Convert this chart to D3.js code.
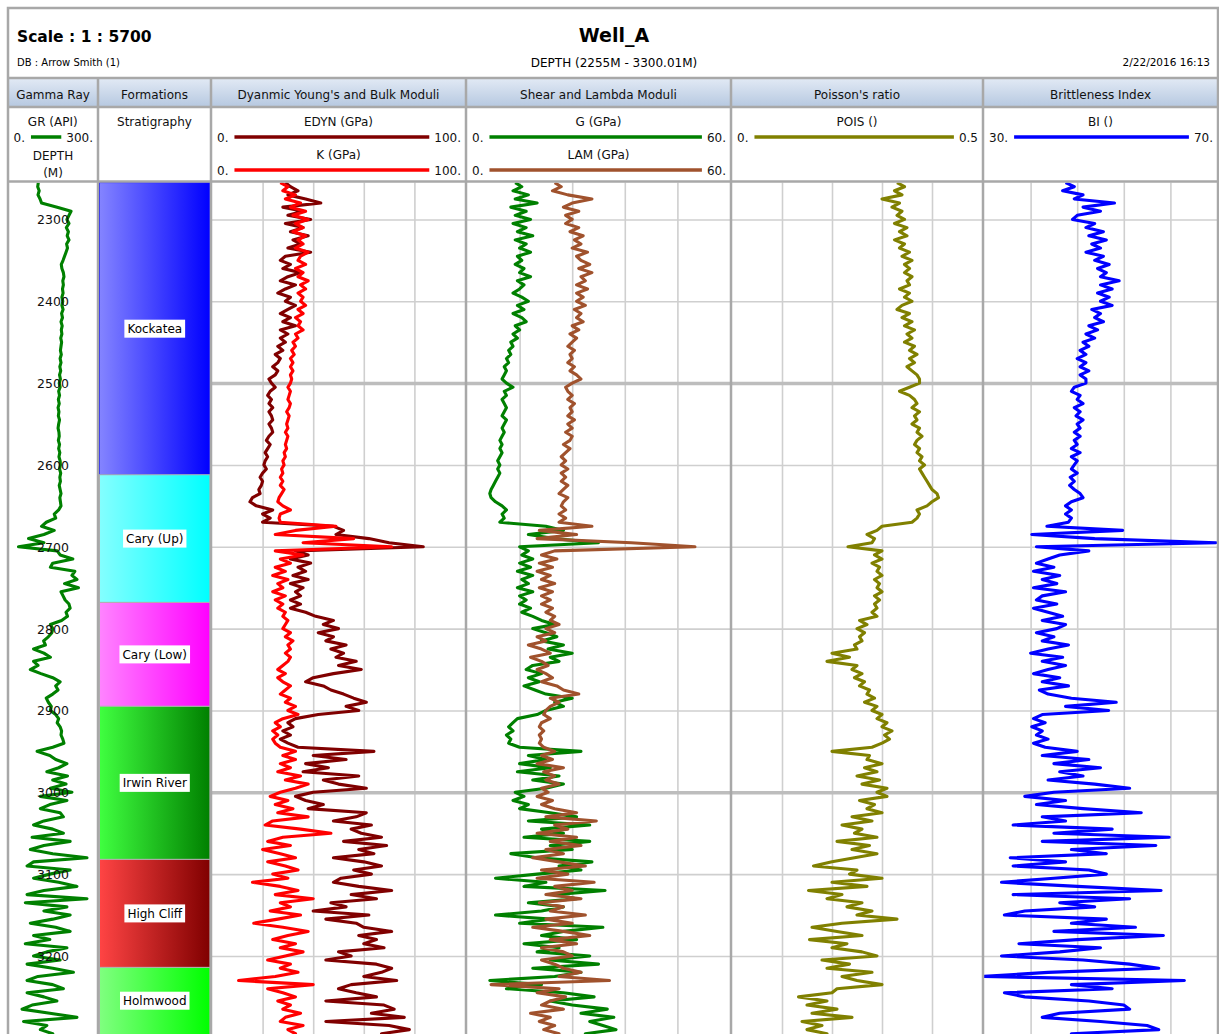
<!DOCTYPE html>
<html>
<head>
<meta charset="utf-8">
<script src="https://cdn.jsdelivr.net/npm/d3@7"></script>
<style>
  html, body { margin: 0; padding: 0; background: #fff; overflow: hidden; }
  svg { display: block; font-family: "DejaVu Sans", Verdana, sans-serif; }
</style>
</head>
<body>
<svg id="log" width="1219" height="1034"></svg>
<script>
// ---------------------------------------------------------------
// Well log data: one sample every 5 m, 2255 m .. 3300 m.
// Each row below holds one 100 m interval (2300-2395, 2400-2495, ...)
// ---------------------------------------------------------------
const depthTop = 2255, depthBottom = 3300, depthStep = 5;
const depths = d3.range(depthTop, depthBottom + 1, depthStep);
const depthTicks = [2300, 2400, 2500, 2600, 2700, 2800, 2900, 3000, 3100, 3200, 3300];

// Gamma ray (API)
const GR = [
  101, 99, 104, 100, 107, 112, 165, 212, 205,
  198, 205, 196, 203, 199, 205, 197, 200, 195, 190, 185, 179, 181, 186, 188, 184, 186, 183, 185, 181,
  184, 181, 185, 180, 183, 178, 182, 179, 181, 177, 180, 178, 176, 179, 175, 178, 174, 177, 173, 176,
  172, 175, 170, 173, 169, 172, 168, 171, 169, 173, 170, 168, 171, 172, 169, 173, 170, 174, 171, 175,
  176, 173, 177, 174, 176, 172, 175, 178, 174, 176, 178, 170, 155, 160, 128, 112, 155, 120, 68, 120,
  34, 165, 175, 218, 150, 142, 225, 215, 232, 190, 237, 178, 185, 192, 205, 209, 195, 200, 180, 142,
  150, 147, 135, 119, 125, 85, 120, 142, 85, 100, 74, 110, 150, 175, 160, 168, 150, 128, 135, 145,
  142, 160, 170, 165, 175, 180, 178, 184, 188, 150, 97, 140, 160, 198, 170, 130, 200, 150, 195, 142,
  215, 108, 198, 140, 108, 175, 186, 120, 85, 150, 186, 80, 209, 120, 74, 150, 266, 85, 63, 209,
  140, 85, 170, 232, 120, 63, 266, 57, 198, 120, 209, 150, 74, 160, 209, 85, 140, 57, 198, 130,
  85, 175, 63, 150, 220, 100, 63, 150, 186, 63, 120, 164, 80, 46, 140, 232, 51, 130, 108, 150,
  120
];

// Dynamic Young's modulus (GPa)
const EDYN = [
  29, 31, 34, 30, 37, 43, 28, 36, 30,
  39, 29, 36, 31, 38, 32, 35, 30, 39, 29, 27, 31, 28, 35, 30, 27, 33, 29, 26, 31,
  29, 33, 30, 27, 31, 28, 33, 27, 30, 27, 29, 26, 28, 25, 27, 26, 24, 26, 25, 22.5,
  23.5, 25, 23, 22, 23.5, 22.5, 24, 22.5, 23.5, 24, 22.5, 23.5, 24, 22.5, 21.5, 23, 22, 21, 22, 21,
  20.5, 21.5, 20, 19, 20, 19.5, 18.5, 19, 16, 15, 17.5, 24, 20, 23, 20, 48, 52, 49, 62, 70,
  83.5, 33, 38, 31, 39, 34, 37, 32, 38, 31, 36, 33, 35, 31, 35, 31, 37, 41, 48, 44,
  50, 42, 48, 45, 53, 47, 52, 49, 57, 50, 59, 48, 40, 37, 44, 47, 52, 56, 61, 53,
  58, 42, 33, 30, 32, 28, 31, 27, 30, 34, 64, 40, 53, 37, 46, 36, 58, 44, 50, 61,
  40, 33, 37, 44, 38, 61, 57, 48, 63, 55, 59, 67, 52, 69, 58, 64, 48, 60, 67, 56,
  63, 51, 48, 58, 71, 55, 65, 47, 53, 40, 62, 45, 57, 60, 71, 58, 65, 60, 68, 50,
  55, 45, 65, 71, 67, 60, 73, 55, 50, 57, 65, 45, 68, 72, 63, 76, 45, 70, 78, 67,
  72
];

// Bulk modulus (GPa)
const K = [
  27, 30, 28, 33, 29, 35, 31, 37, 32,
  38, 33, 36, 32, 37, 34, 36, 33, 38, 35, 34, 37, 33, 36, 34, 38, 35, 37, 34, 36,
  35, 37, 34, 36, 33, 35, 34, 36, 33, 34, 32, 33, 31.5, 32.5, 31, 32, 31, 32, 31, 31.5,
  31, 30, 31, 30.5, 30, 31, 30.5, 29.5, 30.5, 30, 29.5, 30, 29, 30, 29.5, 29, 29.5, 28.5, 29, 28,
  28.5, 27.5, 28, 27, 28, 27, 28.5, 27.5, 26.5, 26, 28, 31, 27, 26.5, 27, 49, 33, 25, 56, 36,
  71, 25, 36, 27, 31, 25, 29, 24, 30, 26, 28, 24, 29, 25, 28, 26, 29, 28, 30, 29,
  28, 31, 29, 32, 30, 31, 29, 31, 30, 28, 26, 29, 26, 28, 31, 29, 27, 31, 29, 33,
  30, 34, 28, 25, 27, 24, 26, 24, 25, 27, 33, 28, 33, 27, 31, 26, 35, 29, 38, 33,
  27, 23, 30, 25, 32, 26, 38, 24, 21, 35, 47, 28, 22, 31, 20, 27, 33, 22, 29, 34,
  24, 30, 16, 27, 34, 25, 40, 27, 31, 23, 35, 26, 16.5, 28, 38, 30, 24, 33, 27, 36,
  29, 22, 31, 27, 34, 25, 10.5, 40, 22, 28, 33, 26, 31, 28, 35, 29, 27, 36, 30, 33,
  31
];

// Shear modulus (GPa)
const G = [
  11, 12.5, 10.5, 14, 11, 16, 10, 13.5, 11,
  14.5, 10.5, 13.5, 11.5, 15, 11, 13.5, 12, 14.5, 11.5, 12.5, 11, 13, 12, 14.5, 11.5, 13, 12, 10.5, 12.5,
  14, 11.5, 13, 10.5, 12.5, 13.5, 11, 12, 10.5, 11.5, 10, 10.5, 9.5, 10, 9, 9.5, 8.5, 9, 8.5, 8,
  9, 10.5, 8.5, 9, 8, 8.5, 9, 8.5, 8, 9, 8.5, 8, 8.5, 8, 7.5, 8, 7.5, 8, 7.5, 7,
  7.5, 7, 7.5, 7, 6.5, 6, 5.5, 5.2, 5.5, 6.5, 8, 9, 8, 8.5, 7.5, 18, 22, 14, 20, 30,
  12, 14, 12.5, 15, 12, 14.5, 11.5, 15, 12.5, 14, 11.5, 15, 12, 13.5, 12, 14.5, 12.5, 15, 17, 20,
  15, 18, 20.5, 17, 22, 18.5, 24, 19, 21, 15, 13.5, 17, 14, 16.5, 13, 15.5, 18, 24, 20, 22,
  18, 16, 11.5, 10.5, 9.5, 10.5, 9, 10, 9.5, 12, 26, 14, 18, 12, 19, 11.5, 21, 15, 22, 18,
  11, 13, 10.5, 14, 12, 19, 25, 14, 28, 17, 22, 13, 28, 19, 24, 10, 16, 28.5, 21, 26,
  16, 6.5, 18, 13, 31.5, 20, 25, 14, 22, 17, 6.5, 19, 12, 31, 22, 17, 25, 13, 21, 16,
  28, 19, 30, 15, 26, 20, 5.2, 17, 9, 22, 29, 19, 24, 32, 26, 33.5, 28, 31, 34, 27,
  30
];

// Lambda modulus (GPa)
const LAM = [
  20, 21.5, 19.5, 23, 28.5, 24, 22, 25.5, 22.5,
  24, 22.5, 25.5, 23.5, 26.5, 24.5, 26, 24, 27.5, 25, 26, 28, 25.5, 28.5, 26, 27, 25, 27.5, 25, 26.5,
  25, 27, 24.5, 26, 25, 26.5, 24, 25.5, 23.5, 25, 24, 23, 24.5, 23.5, 24, 23, 24.5, 23.5, 25, 26,
  24, 22.5, 23, 24, 23, 24.5, 23.5, 24, 23, 24.5, 23, 24, 22.5, 24, 23.5, 22, 23.5, 22.5, 21.5, 22.5,
  21.5, 23, 21.5, 22.5, 21.5, 23, 22, 21, 23, 22, 21.5, 22.5, 21, 22.5, 21, 28.5, 16.5, 25, 16, 37.5,
  52, 20, 17, 20.5, 16.5, 19.5, 16, 19, 17, 20, 16.5, 19.5, 17, 19, 17, 19.5, 18, 20, 19, 21,
  18, 20, 16, 18, 14, 17, 19, 14.5, 17, 18.5, 16, 18, 19.5, 17, 20.5, 22, 25.5, 19, 21, 19,
  18, 17.5, 19, 17, 16.5, 17.5, 16.5, 17, 16.5, 17.5, 20, 17, 19.5, 16, 22, 17.5, 20, 18, 21, 17,
  18.5, 16, 19.5, 17, 20, 25, 18, 29.5, 20, 23, 16, 25, 19, 26, 18, 22, 15, 21, 27, 17,
  23, 16, 29, 20, 24, 18, 26, 16.5, 22, 19, 27, 18, 24, 15, 22, 28, 19, 25, 17, 22,
  24, 17, 20, 22, 26, 21, 32.5, 5.5, 21, 16, 22.5, 19, 17, 22, 14.5, 19, 16.5, 20, 17.5, 21,
  18.5
];

// Poisson's ratio
const POIS = [
  0.33, 0.345, 0.325, 0.34, 0.30, 0.335, 0.32, 0.34, 0.33,
  0.345, 0.325, 0.35, 0.335, 0.35, 0.325, 0.345, 0.335, 0.355, 0.34, 0.36, 0.345, 0.355, 0.345, 0.36, 0.35, 0.355, 0.335, 0.355, 0.345,
  0.36, 0.34, 0.33, 0.355, 0.34, 0.36, 0.345, 0.365, 0.35, 0.36, 0.345, 0.365, 0.355, 0.37, 0.355, 0.365, 0.35, 0.36, 0.37, 0.375,
  0.375, 0.355, 0.335, 0.355, 0.365, 0.37, 0.36, 0.375, 0.365, 0.37, 0.36, 0.375, 0.37, 0.38, 0.37, 0.365, 0.375, 0.37, 0.38, 0.375,
  0.385, 0.375, 0.38, 0.385, 0.39, 0.395, 0.40, 0.41, 0.413, 0.40, 0.39, 0.37, 0.375, 0.37, 0.36, 0.30, 0.29, 0.27, 0.285, 0.28,
  0.232, 0.30, 0.285, 0.30, 0.28, 0.295, 0.29, 0.30, 0.285, 0.295, 0.29, 0.30, 0.285, 0.295, 0.285, 0.29, 0.28, 0.29, 0.255, 0.27,
  0.25, 0.265, 0.255, 0.26, 0.245, 0.25, 0.20, 0.235, 0.19, 0.25, 0.24, 0.26, 0.245, 0.265, 0.255, 0.275, 0.27, 0.285, 0.265, 0.29,
  0.28, 0.30, 0.29, 0.31, 0.30, 0.32, 0.305, 0.315, 0.30, 0.28, 0.20, 0.275, 0.27, 0.30, 0.265, 0.29, 0.25, 0.295, 0.26, 0.31,
  0.29, 0.31, 0.255, 0.285, 0.27, 0.30, 0.24, 0.28, 0.22, 0.26, 0.245, 0.29, 0.21, 0.275, 0.24, 0.29, 0.245, 0.20, 0.163, 0.25,
  0.235, 0.30, 0.20, 0.27, 0.153, 0.22, 0.19, 0.26, 0.23, 0.28, 0.25, 0.33, 0.22, 0.16, 0.21, 0.26, 0.155, 0.23, 0.20, 0.26,
  0.29, 0.18, 0.235, 0.19, 0.28, 0.22, 0.25, 0.30, 0.21, 0.20, 0.133, 0.19, 0.15, 0.21, 0.16, 0.24, 0.14, 0.18, 0.15, 0.19,
  0.17
];

// Brittleness index
const BI = [
  44, 45.5, 43.5, 47, 45.5, 52.4, 47, 50, 46,
  45.2, 49, 47.5, 50.5, 48, 51, 48.5, 50, 47.5, 50.5, 49, 51.5, 49.5, 51, 50, 53.2, 50, 52, 49.5, 51.5,
  50, 52, 48.5, 50, 49, 50.5, 48, 49.5, 47.5, 49, 47, 48, 46.5, 47.5, 46, 47.5, 46.5, 48, 46.5, 47.5,
  47.5, 45.5, 45, 46.5, 46, 47, 45.5, 46.5, 45.8, 47, 46, 46.5, 45.5, 46.5, 45.5, 46, 45, 46.5, 45, 46,
  45.5, 45, 46, 44.8, 45.5, 44.7, 45.5, 46.5, 47, 45, 44, 45, 44, 45, 44.5, 40.8, 53.8, 38.2, 49, 69.8,
  39, 48, 43, 41, 39, 42, 38.5, 43, 40, 42.5, 38.5, 44, 40, 39, 42.5, 38.5, 41, 43.5, 40, 44,
  42.5, 39, 42, 40, 44.5, 41, 38, 43.5, 40, 44, 41, 38.5, 43, 40, 44.5, 39.5, 41, 45, 52.7, 44,
  51.4, 40, 38.5, 40.5, 38.2, 40, 39, 41, 38.5, 40.5, 46, 40, 48, 42, 50, 43, 47, 41, 49, 55,
  42, 37, 44, 39, 47, 57, 40, 44, 35, 52, 42, 61.8, 40, 59.5, 45, 51, 34.5, 44, 35, 48,
  51, 42, 33, 46, 60.4, 35, 55, 43, 49, 37, 33.5, 51, 45, 56, 42, 60.8, 46, 36, 50, 43,
  33, 47, 55, 60, 41, 30, 64.4, 45, 52, 33.5, 37, 48, 54, 55, 43, 40, 50, 58, 60, 45,
  52
];

// Stratigraphy: formation names and their top depths (m)
const formationNames = ["Kockatea", "Cary (Up)", "Cary (Low)", "Irwin River", "High Cliff", "Holmwood"];
const formationTops = [2255, 2612, 2768, 2895, 3082, 3214];

// Header texts
const trackTitles = ["Gamma Ray", "Formations", "Dyanmic Young's and Bulk Moduli",
                     "Shear and Lambda Moduli", "Poisson's ratio", "Brittleness Index"];

// ---------------------------------------------------------------
// Layout and style
// ---------------------------------------------------------------
const svg = d3.select("#log");
const lineColor = "#a8a8a8";
const colEdges = [8, 98, 211, 466, 731, 983, 1218];
const rowTitleBottom = 78, rowHeadBottom = 107, rowLegendBottom = 181.5;

const y = d3.scaleLinear().domain([depthTop, depthBottom]).range([182.6, 1037.8]);

// formation fills: [light edge, saturated edge]
const formationFills = [
  ["#8484ff", "#0000ff"],
  ["#84ffff", "#00ffff"],
  ["#ff84ff", "#ff00ff"],
  ["#40ff40", "#008000"],
  ["#ff4444", "#800000"],
  ["#80ff80", "#00ff00"]
];

// data tracks and the curves they hold
const tracks = [
  { id: "gr",   x0: 8.5, x1: 97,   grid: false, curves: [
      { label: "GR (API)",   values: GR,   domain: [0, 300], ticks: ["0.", "300."], color: "#008000" } ] },
  { id: "dyn",  x0: 212, x1: 465,  grid: true, curves: [
      { label: "EDYN (GPa)", values: EDYN, domain: [0, 100], ticks: ["0.", "100."], color: "#800000" },
      { label: "K (GPa)",    values: K,    domain: [0, 100], ticks: ["0.", "100."], color: "#ff0000" } ] },
  { id: "shear", x0: 467, x1: 730, grid: true, curves: [
      { label: "G (GPa)",    values: G,    domain: [0, 60],  ticks: ["0.", "60."],  color: "#008000" },
      { label: "LAM (GPa)",  values: LAM,  domain: [0, 60],  ticks: ["0.", "60."],  color: "#a0522d" } ] },
  { id: "pois", x0: 732, x1: 982,  grid: true, curves: [
      { label: "POIS ()",    values: POIS, domain: [0, 0.5], ticks: ["0.", "0.5"],  color: "#808000" } ] },
  { id: "bi",   x0: 984, x1: 1217, grid: true, curves: [
      { label: "BI ()",      values: BI,   domain: [30, 70], ticks: ["30.", "70."], color: "#0000ff" } ] }
];

const defs = svg.append("defs");

// header band gradient
const hg = defs.append("linearGradient").attr("id", "headGrad")
  .attr("x1", 0).attr("y1", 0).attr("x2", 0).attr("y2", 1);
hg.append("stop").attr("offset", "0%").attr("stop-color", "#e2eaf5");
hg.append("stop").attr("offset", "100%").attr("stop-color", "#b6c8e0");

// ---------------------------------------------------------------
// Title block
// ---------------------------------------------------------------
svg.append("text").attr("x", 17).attr("y", 42)
  .attr("font-size", 15.5).attr("font-weight", "bold").text("Scale : 1 : 5700");
svg.append("text").attr("x", 614).attr("y", 42).attr("text-anchor", "middle")
  .attr("font-size", 19).attr("font-weight", "bold").text("Well_A");
svg.append("text").attr("x", 17).attr("y", 66).attr("font-size", 10).text("DB : Arrow Smith (1)");
svg.append("text").attr("x", 614).attr("y", 66.5).attr("text-anchor", "middle")
  .attr("font-size", 12).text("DEPTH (2255M - 3300.01M)");
svg.append("text").attr("x", 1210).attr("y", 66).attr("text-anchor", "end")
  .attr("font-size", 10.5).text("2/22/2016 16:13");

// header band
svg.append("rect").attr("x", colEdges[0]).attr("y", rowTitleBottom)
  .attr("width", colEdges[6] - colEdges[0]).attr("height", rowHeadBottom - rowTitleBottom)
  .attr("fill", "url(#headGrad)");

trackTitles.forEach((t, i) => {
  svg.append("text")
    .attr("x", (colEdges[i] + colEdges[i + 1]) / 2).attr("y", 98.5)
    .attr("text-anchor", "middle").attr("font-size", 12).attr("fill", "#111").text(t);
});

// ---------------------------------------------------------------
// Grid lines (axes without labels)
// ---------------------------------------------------------------
const plotTop = y(depthTop), plotBottom = y(depthBottom);
const gridLayer = svg.append("g");

tracks.filter(t => t.grid).forEach(t => {
  const x = d3.scaleLinear().domain([0, 5]).range([t.x0, t.x1]);
  // vertical divisions
  const gv = gridLayer.append("g").attr("transform", `translate(0,${plotTop})`)
    .call(d3.axisTop(x).tickValues([1, 2, 3, 4]).tickSize(-(plotBottom - plotTop)).tickFormat(""));
  gv.select(".domain").remove();
  gv.selectAll("line").attr("stroke", "#cfcfcf").attr("stroke-width", 1.6);
  // horizontal depth lines
  const gh = gridLayer.append("g").attr("transform", `translate(${t.x0},0)`)
    .call(d3.axisLeft(y).tickValues(depthTicks).tickSize(-(t.x1 - t.x0)).tickFormat(""));
  gh.select(".domain").remove();
  gh.selectAll("line")
    .attr("stroke", d => d % 500 === 0 ? "#bdbdbd" : "#cfcfcf")
    .attr("stroke-width", d => d % 500 === 0 ? 3.5 : 1.6);
});

// ---------------------------------------------------------------
// Formation column
// ---------------------------------------------------------------
const fx0 = 99.5, fx1 = 210;
const formations = formationNames.map((name, i) => ({
  name, top: formationTops[i],
  base: i < formationTops.length - 1 ? formationTops[i + 1] : depthBottom,
  fill: formationFills[i]
}));
formations.forEach((f, i) => {
  const g = defs.append("linearGradient").attr("id", "fm" + i)
    .attr("x1", 0).attr("y1", 0).attr("x2", 1).attr("y2", 0);
  g.append("stop").attr("offset", "0%").attr("stop-color", f.fill[0]);
  g.append("stop").attr("offset", "100%").attr("stop-color", f.fill[1]);
});
const fmG = svg.append("g");
fmG.selectAll("rect.fm").data(formations).join("rect").attr("class", "fm")
  .attr("x", fx0).attr("width", fx1 - fx0)
  .attr("y", d => y(d.top)).attr("height", d => y(d.base) - y(d.top))
  .attr("fill", (d, i) => `url(#fm${i})`)
  .attr("stroke", (d, i) => i === 0 ? "#2020ff" : "#b0b0b0").attr("stroke-width", 1);

const fmLabels = fmG.selectAll("g.lbl").data(formations).join("g").attr("class", "lbl")
  .attr("transform", d => `translate(${(fx0 + fx1) / 2},${(y(d.top) + Math.min(y(d.base), 1034)) / 2})`);
fmLabels.append("text").attr("text-anchor", "middle").attr("dy", "0.36em")
  .attr("font-size", 12).attr("fill", "#000").text(d => d.name);
fmLabels.each(function () {
  const g = d3.select(this);
  const w = g.select("text").node().getComputedTextLength();
  g.insert("rect", "text").attr("x", -w / 2 - 3).attr("y", -9).attr("width", w + 6).attr("height", 18)
    .attr("fill", "#fff");
});

// ---------------------------------------------------------------
// Curves and legends
// ---------------------------------------------------------------
tracks.forEach(t => {
  const clipId = "clip-" + t.id;
  defs.append("clipPath").attr("id", clipId).append("rect")
    .attr("x", t.x0).attr("y", plotTop).attr("width", t.x1 - t.x0).attr("height", plotBottom - plotTop);

  const layer = svg.append("g").attr("clip-path", `url(#${clipId})`);
  t.curves.forEach((c, ci) => {
    const x = d3.scaleLinear().domain(c.domain).range([t.x0, t.x1]);
    const line = d3.line().x(d => x(d.v)).y(d => y(d.d));
    const pts = depths.map((d, i) => ({ d, v: c.values[i] }));
    layer.append("path").datum(pts)
      .attr("d", line).attr("fill", "none")
      .attr("stroke", c.color).attr("stroke-width", 3.1)
      .attr("stroke-linejoin", "round");

    // legend entry
    const ly = 126 + ci * 33;
    const cx = (t.x0 + t.x1) / 2;
    const leg = svg.append("g");
    leg.append("text").attr("x", cx).attr("y", ly).attr("text-anchor", "middle")
      .attr("font-size", 12).attr("fill", "#111").text(c.label);
    const lo = leg.append("text").attr("x", t.x0 + 5).attr("y", ly + 16)
      .attr("font-size", 12).attr("fill", "#111").text(c.ticks[0]);
    const hi = leg.append("text").attr("x", t.x1 - 4).attr("y", ly + 16).attr("text-anchor", "end")
      .attr("font-size", 12).attr("fill", "#111").text(c.ticks[1]);
    const loEnd = t.x0 + 5 + lo.node().getComputedTextLength();
    const hiStart = t.x1 - 4 - hi.node().getComputedTextLength();
    leg.append("line").attr("x1", loEnd + 6).attr("x2", hiStart - 5)
      .attr("y1", ly + 11).attr("y2", ly + 11)
      .attr("stroke", c.color).attr("stroke-width", 3.5);
  });
});

// depth column labels
svg.append("text").attr("x", 53).attr("y", 160).attr("text-anchor", "middle").attr("font-size", 12)
  .attr("fill", "#111").text("DEPTH");
svg.append("text").attr("x", 53).attr("y", 177).attr("text-anchor", "middle").attr("font-size", 12)
  .attr("fill", "#111").text("(M)");
svg.append("text").attr("x", (colEdges[1] + colEdges[2]) / 2).attr("y", 126).attr("text-anchor", "middle")
  .attr("font-size", 12).attr("fill", "#111").text("Stratigraphy");

// depth scale inside the gamma ray column
const depthAxis = svg.append("g").attr("transform", "translate(53,0)")
  .call(d3.axisRight(y).tickValues(depthTicks).tickSize(0).tickFormat(d3.format("d")));
depthAxis.select(".domain").remove();
depthAxis.selectAll("text").attr("x", 0).attr("dy", "0.36em").attr("text-anchor", "middle")
  .attr("font-size", 12.5).attr("font-family", "DejaVu Sans, Verdana, sans-serif").attr("fill", "#111");

// ---------------------------------------------------------------
// Frame lines
// ---------------------------------------------------------------
const frame = svg.append("g").attr("stroke", lineColor).attr("fill", "none");
frame.append("rect").attr("x", colEdges[0]).attr("y", 8)
  .attr("width", colEdges[6] - colEdges[0]).attr("height", 1100).attr("stroke-width", 2.5);
[rowTitleBottom, rowHeadBottom, rowLegendBottom].forEach(yy => {
  frame.append("line").attr("x1", colEdges[0]).attr("x2", colEdges[6])
    .attr("y1", yy).attr("y2", yy).attr("stroke-width", 2.5);
});
colEdges.slice(1, -1).forEach(xx => {
  frame.append("line").attr("x1", xx).attr("x2", xx)
    .attr("y1", rowTitleBottom).attr("y2", 1100).attr("stroke-width", 2.5);
});
</script>
</body>
</html>
